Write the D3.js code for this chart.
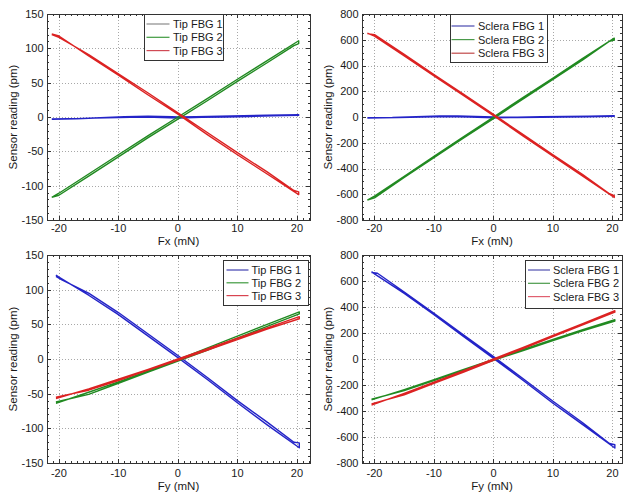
<!DOCTYPE html>
<html><head><meta charset="utf-8">
<script src="https://cdn.jsdelivr.net/npm/d3@7"></script>
<style>
body{margin:0;background:#fff}
svg{display:block}
text{font-family:"Liberation Sans",Arial,sans-serif;fill:#1a1a1a}
</style>
</head><body><svg id="c" width="635" height="500"></svg>
<script>
// ---------- data ----------
const xTicks = [-20, -10, 0, 10, 20];
const yTicksTip = [-150, -100, -50, 0, 50, 100, 150];
const yTicksSclera = [-800, -600, -400, -200, 0, 200, 400, 600, 800];
const namesTip = ["Tip FBG 1", "Tip FBG 2", "Tip FBG 3"];
const namesSclera = ["Sclera FBG 1", "Sclera FBG 2", "Sclera FBG 3"];

// Fx sweep, tip FBGs (loading then unloading branch)
const fxTip1 = [[-21.2,-3.5],[-17,-2.5],[-13,-1],[-9,0.5],[-5,1],[-1,0.5],[0,0],[3,0.5],[7,1],[11,1.8],[15,2.5],[20.3,3.5],[20.3,2.5],[16,1.6],[12,0.8],[8,0],[4,-0.5],[0,-1.5],[-4,-0.5],[-8,-0.5],[-12,-1],[-16,-2],[-21.2,-2.8]];
const fxTip2 = [[-21.2,-117],[-20,-111],[-15,-83],[-10,-55],[-5,-27],[0,0],[5,27],[10,55],[15,82],[20.3,111],[20.3,107],[19.5,104],[15,79],[10,52],[5,24],[0,-3],[-5,-30],[-10,-58],[-15,-86],[-20,-114],[-21.2,-117]];
const fxTip3 = [[-21.2,121],[-20,118],[-15,89],[-10,61],[-5,32],[0,4],[5,-26],[10,-55],[15,-83],[20.3,-113],[20.3,-109],[19.5,-107],[15,-80],[10,-52],[5,-23],[0,6],[-5,35],[-10,63],[-15,91],[-20,116],[-21.2,120]];

// Fx sweep, sclera FBGs
const fxScl1 = [[-21.2,-6],[-17,-4],[-13,2],[-9,8],[-6,9],[-3,5],[0,0],[4,-1],[8,2],[12,4],[16,6],[20.3,10],[20.3,6],[16,2],[12,0],[8,-2],[4,-4],[0,-6],[-4,0],[-8,3],[-12,-1],[-16,-5],[-21.2,-9]];
const fxScl2 = [[-21.2,-645],[-20,-615],[-15,-460],[-10,-305],[-5,-152],[0,0],[5,152],[10,302],[15,455],[20.3,612],[20.3,598],[19.5,588],[15,444],[10,292],[5,140],[0,-12],[-5,-163],[-10,-316],[-15,-470],[-20,-628],[-21.2,-645]];
const fxScl3 = [[-21.2,652],[-20,628],[-15,475],[-10,320],[-5,165],[0,10],[5,-148],[10,-305],[15,-460],[20.3,-625],[20.3,-610],[19.5,-596],[15,-448],[10,-293],[5,-136],[0,20],[-5,176],[-10,330],[-15,486],[-20,640],[-21.2,648]];

// Fy sweep, tip FBGs
const fyTip1 = [[-20.5,121],[-20,118],[-15,92],[-10,64],[-5,33],[0,2],[5,-30],[10,-63],[15,-95],[20.4,-128],[20.4,-121],[19.5,-120],[15,-91],[10,-60],[5,-27],[0,5],[-5,36],[-10,67],[-15,95],[-19.5,114],[-20.5,119]];
const fyTip2 = [[-20.5,-64],[-15,-48],[-10,-33],[-5,-17],[0,-1],[5,16],[10,33],[15,50],[20.4,68],[20.4,65],[15,47],[10,30],[5,13],[0,-3],[-5,-19],[-10,-35],[-15,-51],[-20.5,-62]];
const fyTip3 = [[-20.5,-57],[-15,-43],[-10,-29],[-5,-15],[0,0],[5,15],[10,30],[15,45],[20.4,61],[20.4,58],[15,43],[10,28],[5,13],[0,-2],[-5,-16],[-10,-31],[-15,-45],[-20.5,-55]];

// Fy sweep, sclera FBGs
const fyScl1 = [[-20.5,672],[-20,655],[-15,505],[-10,340],[-5,172],[0,5],[5,-165],[10,-340],[15,-505],[20.4,-685],[20.4,-660],[19.5,-650],[15,-490],[10,-325],[5,-152],[0,18],[-5,185],[-10,352],[-15,515],[-19.5,660],[-20.5,665]];
const fyScl2 = [[-20.5,-315],[-15,-235],[-10,-158],[-5,-80],[0,-3],[5,73],[10,150],[15,225],[20.4,302],[20.4,292],[15,217],[10,142],[5,65],[0,-10],[-5,-88],[-10,-166],[-15,-243],[-20.5,-310]];
const fyScl3 = [[-20.5,-355],[-15,-265],[-10,-178],[-5,-90],[0,0],[5,90],[10,182],[15,272],[20.4,372],[20.4,360],[15,262],[10,172],[5,80],[0,-10],[-5,-100],[-10,-188],[-15,-275],[-20.5,-345]];

// ---------- styling / layout ----------
const lineColors = ["#2424c8", "#218a21", "#dc2222"];
const panels = [
  {xr:[47,310], yr:[220,14], xdom:[-22,22.2], ydom:[-150,150], yTicks:yTicksTip, yMinor:10,
   data:[fxTip1,fxTip2,fxTip3], names:namesTip, xLabel:"Fx (mN)", labX:13, xlabY:244.5, tickY:231.5,
   leg:{x:144,y:14,w:79,h:46,r0:24,dr:13.3,lx:146.5,lw:23,tx:173}, legColors:["#8a8a8a","#3f9a3f","#d04a55"]},
  {xr:[362,622], yr:[220,14], xdom:[-22.1,21.6], ydom:[-800,800], yTicks:yTicksSclera, yMinor:50,
   data:[fxScl1,fxScl2,fxScl3], names:namesSclera, xLabel:"Fx (mN)", labX:328, xlabY:244.5, tickY:231.5,
   leg:{x:450,y:14,w:97,h:48,r0:26,dr:13.6,lx:451.5,lw:23,tx:478}, legColors:["#4a4ab0","#4a9a4a","#c04848"]},
  {xr:[47,310], yr:[463,255], xdom:[-22,22.2], ydom:[-150,150], yTicks:yTicksTip, yMinor:10,
   data:[fyTip1,fyTip2,fyTip3], names:namesTip, xLabel:"Fy (mN)", labX:13, xlabY:490, tickY:477,
   leg:{x:223,y:260,w:85,h:45,r0:270,dr:12.8,lx:226.5,lw:22,tx:251.5}, legColors:["#4040b0","#3f9a3f","#d84450"]},
  {xr:[362,622], yr:[463,255], xdom:[-22.1,21.6], ydom:[-800,800], yTicks:yTicksSclera, yMinor:50,
   data:[fyScl1,fyScl2,fyScl3], names:namesSclera, xLabel:"Fy (mN)", labX:328, xlabY:490, tickY:477,
   leg:{x:525,y:260,w:97,h:48,r0:270,dr:13.3,lx:528,lw:22,tx:553}, legColors:["#5050b0","#4a9a4a","#e06070"]}
];

const svg = d3.select("#c");

panels.forEach(p => {
  const x = d3.scaleLinear().domain(p.xdom).range(p.xr);
  const y = d3.scaleLinear().domain(p.ydom).range(p.yr);
  const g = svg.append("g");
  const [L, R] = p.xr, [B, T] = p.yr;

  // grid (dotted)
  g.selectAll(".gx").data(xTicks).join("line")
    .attr("x1", d => Math.round(x(d)) + 0.5).attr("x2", d => Math.round(x(d)) + 0.5)
    .attr("y1", T).attr("y2", B)
    .attr("stroke", "#a8a8a8").attr("stroke-width", 1).attr("stroke-dasharray", "1,2");
  g.selectAll(".gy").data(p.yTicks.slice(1, -1)).join("line")
    .attr("y1", d => Math.round(y(d)) + 0.5).attr("y2", d => Math.round(y(d)) + 0.5)
    .attr("x1", L).attr("x2", R)
    .attr("stroke", "#a8a8a8").attr("stroke-width", 1).attr("stroke-dasharray", "1,2");

  // series
  const line = d3.line().x(d => x(d[0])).y(d => y(d[1]));
  p.data.forEach((s, i) => {
    g.append("path").datum(s).attr("d", line)
      .attr("fill", "none").attr("stroke", lineColors[i])
      .attr("stroke-width", 1.4).attr("stroke-linejoin", "round");
  });

  // minor ticks
  const xMinor = d3.range(Math.ceil(p.xdom[0]), Math.floor(p.xdom[1]) + 1, 1).filter(v => v % 10 !== 0);
  const yMinor = d3.range(p.ydom[0], p.ydom[1] + 1, p.yMinor).filter(v => !p.yTicks.includes(v));
  const tk = g.append("g").attr("stroke", "#333").attr("stroke-width", 1);
  xMinor.forEach(v => {
    const xx = Math.round(x(v)) + 0.5;
    tk.append("line").attr("x1", xx).attr("x2", xx).attr("y1", B).attr("y2", B - 2);
    tk.append("line").attr("x1", xx).attr("x2", xx).attr("y1", T).attr("y2", T + 2);
  });
  yMinor.forEach(v => {
    const yy = Math.round(y(v)) + 0.5;
    tk.append("line").attr("y1", yy).attr("y2", yy).attr("x1", L).attr("x2", L + 2);
    tk.append("line").attr("y1", yy).attr("y2", yy).attr("x1", R).attr("x2", R - 2);
  });
  xTicks.forEach(v => {
    const xx = Math.round(x(v)) + 0.5;
    tk.append("line").attr("x1", xx).attr("x2", xx).attr("y1", B).attr("y2", B - 4);
    tk.append("line").attr("x1", xx).attr("x2", xx).attr("y1", T).attr("y2", T + 4);
  });
  p.yTicks.forEach(v => {
    const yy = Math.round(y(v)) + 0.5;
    tk.append("line").attr("y1", yy).attr("y2", yy).attr("x1", L).attr("x2", L + 4);
    tk.append("line").attr("y1", yy).attr("y2", yy).attr("x1", R).attr("x2", R - 4);
  });

  // box
  g.append("rect").attr("x", L + 0.5).attr("y", T + 0.5)
    .attr("width", R - L).attr("height", B - T)
    .attr("fill", "none").attr("stroke", "#333").attr("stroke-width", 1);

  // tick labels
  g.selectAll(".xl").data(xTicks).join("text")
    .attr("x", d => x(d)).attr("y", p.tickY)
    .attr("text-anchor", "middle").attr("font-size", 11).text(d => d);
  g.selectAll(".yl").data(p.yTicks).join("text")
    .attr("x", L - 3.5).attr("y", d => y(d)).attr("dy", "0.36em")
    .attr("text-anchor", "end").attr("font-size", 11).text(d => d);

  // axis labels
  g.append("text").attr("x", (L + R) / 2).attr("y", p.xlabY)
    .attr("text-anchor", "middle").attr("font-size", 11.5).text(p.xLabel);
  g.append("text").attr("transform", `translate(${p.labX},${(T + B) / 2}) rotate(-90)`)
    .attr("dy", "0.36em").attr("text-anchor", "middle").attr("font-size", 11.5)
    .text("Sensor reading (pm)");

  // legend
  const lg = p.leg;
  g.append("rect").attr("x", lg.x + 0.5).attr("y", lg.y + 0.5)
    .attr("width", lg.w).attr("height", lg.h)
    .attr("fill", "#fff").attr("stroke", "#333").attr("stroke-width", 1);
  p.names.forEach((n, i) => {
    const yy = lg.r0 + i * lg.dr;
    g.append("line").attr("x1", lg.lx).attr("x2", lg.lx + lg.lw)
      .attr("y1", yy).attr("y2", yy).attr("stroke", p.legColors[i]).attr("stroke-width", 1.2);
    g.append("text").attr("x", lg.tx).attr("y", yy).attr("dy", "0.36em")
      .attr("font-size", 11).text(n);
  });
});
</script>
</body></html>
